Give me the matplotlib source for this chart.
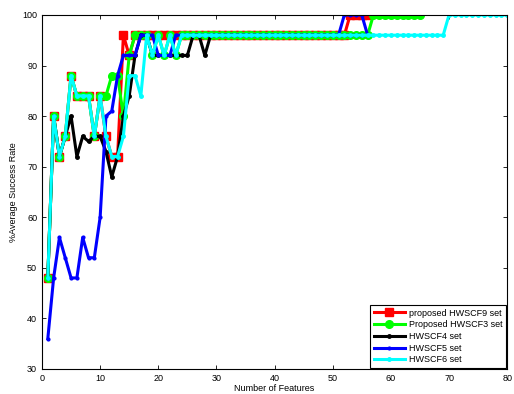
import numpy as np
import matplotlib
matplotlib.use('Agg')
import matplotlib.pyplot as plt

plt.rcParams['font.family'] = ['Liberation Sans', 'DejaVu Sans']

# ---- data (feature count -> % success) ----
hwscf9 = [48, 80, 72, 76, 88, 84, 84, 84, 76, 84, 76, 72, 72, 96, 92, 96, 96, 96,
          96, 96, 96, 96, 96, 96] + [96] * 28 + [100, 100, 100, 100]
hwscf3 = [48, 80, 72, 76, 88, 84, 84, 84, 76, 84, 84, 88, 88, 80, 92, 96, 96, 96,
          92, 96, 92, 96, 92, 96] + [96] * 32 + [100] * 9
hwscf4 = [48, 80, 72, 76, 80, 72, 76, 75, 76, 76, 73, 68, 72, 80, 84, 92, 96, 96,
          92, 92, 92, 92, 92, 92, 92, 96, 96, 92, 96] + [96] * 26
hwscf5 = [36, 48, 56, 52, 48, 48, 56, 52, 52, 60, 80, 81, 88, 92, 92, 92, 96, 96,
          96, 92, 92, 92, 96, 96] + [96] * 27 + [100, 100, 100, 100, 96]
hwscf6 = [48, 80, 72, 76, 88, 84, 84, 84, 76, 84, 76, 72, 72, 76, 88, 88, 84, 96,
          92, 96, 92, 96, 92, 96] + [96] * 45 + [100] * 11

SERIES = [
    ('proposed HWSCF9 set', hwscf9, 'red', 's', 5.8),
    ('Proposed HWSCF3 set', hwscf3, '#00ff00', 'o', 5.5),
    ('HWSCF4 set', hwscf4, 'black', '.', 5),
    ('HWSCF5 set', hwscf5, 'blue', '.', 4),
    ('HWSCF6 set', hwscf6, 'cyan', '.', 5),
]

fig = plt.figure(figsize=(5.14, 3.94), dpi=100)
ax = fig.add_axes([0.0817, 0.0635, 0.905, 0.8985])

for label, vals, col, mk, ms in SERIES:
    x = np.arange(1, len(vals) + 1)
    ax.plot(x, vals, color=col, marker=mk, markersize=ms, linewidth=2.2,
            markerfacecolor=col, markeredgecolor=col, label=label)

ax.set_xlim(0, 80)
ax.set_ylim(30, 100)
ax.set_xticks(range(0, 81, 10))
ax.set_yticks(range(30, 101, 10))
ax.tick_params(direction='in', top=True, right=True, labelsize=6.5, length=3,
               width=0.6)
for s in ax.spines.values():
    s.set_linewidth(0.8)
ax.set_xlabel('Number of Features', fontsize=6.5, labelpad=1)
ax.set_ylabel('%Average Success Rate', fontsize=6.5, labelpad=3)

leg = ax.legend(loc='lower right', fontsize=6.5, handlelength=3.4,
                borderaxespad=0.1, labelspacing=0.3, fancybox=False,
                edgecolor='black', framealpha=1, borderpad=0.4,
                handletextpad=0.5)
leg.get_frame().set_linewidth(0.8)

fig.savefig('out.png', dpi=100)
